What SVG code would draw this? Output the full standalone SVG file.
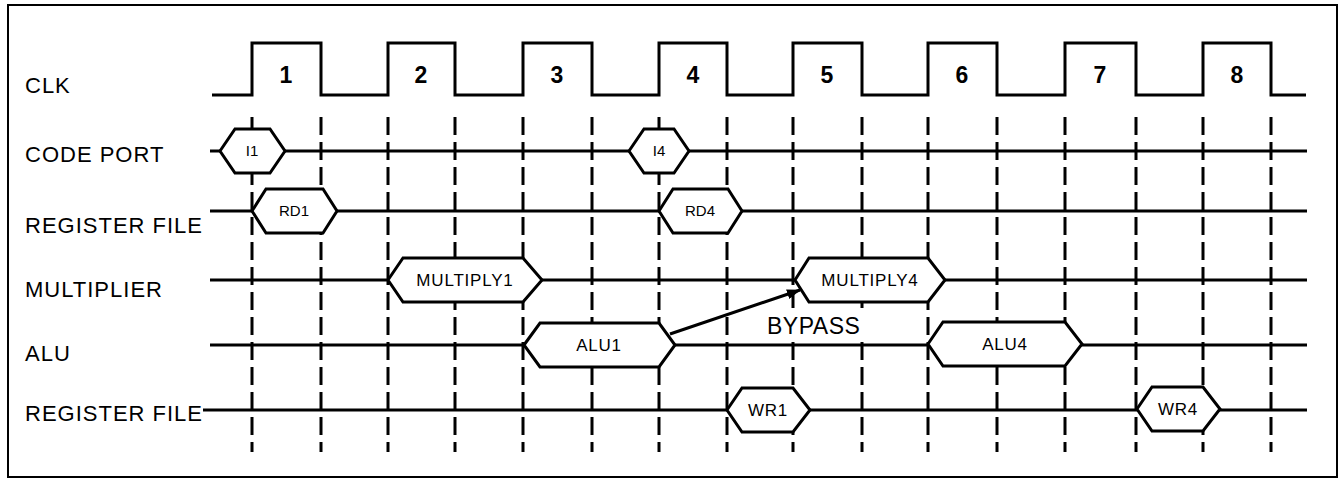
<svg xmlns="http://www.w3.org/2000/svg" width="1340" height="479" viewBox="0 0 1340 479">
<style>
.lbl{font-family:"Liberation Sans",Arial,sans-serif;font-size:22px;letter-spacing:1px;fill:#000}
.num{font-family:"Liberation Sans",Arial,sans-serif;font-size:23px;font-weight:bold;fill:#000;text-anchor:middle}
.ht{font-family:"Liberation Sans",Arial,sans-serif;font-size:17px;letter-spacing:0.8px;fill:#000;text-anchor:middle}
.hs{font-family:"Liberation Sans",Arial,sans-serif;font-size:15px;fill:#000;text-anchor:middle}
.sig{stroke:#000;stroke-width:3;fill:none}
.dash{stroke:#000;stroke-width:3;stroke-dasharray:18 7;fill:none}
.hex{stroke:#000;stroke-width:3;fill:#fff;stroke-linejoin:miter}
</style>
<defs>
<marker id="ah" markerWidth="14" markerHeight="10" refX="13" refY="5" orient="auto" markerUnits="userSpaceOnUse">
<path d="M0,0 L14,5 L0,10 z" fill="#000"/>
</marker>
</defs>
<rect x="8" y="5" width="1329" height="472" fill="#fff" stroke="#000" stroke-width="2"/>
<g id="labels">
<text class="lbl" x="25" y="93">CLK</text>
<text class="lbl" x="25" y="162">CODE PORT</text>
<text class="lbl" x="25" y="233">REGISTER FILE</text>
<text class="lbl" x="25" y="297">MULTIPLIER</text>
<text class="lbl" x="25" y="361">ALU</text>
<text class="lbl" x="25" y="421">REGISTER FILE</text>
</g>
<g id="clk">
<path class="sig" d="M212,95 H252 V43 H321 V95 H388 V43 H455 V95 H523 V43 H592 V95 H659 V43 H727 V95 H793 V43 H862 V95 H928 V43 H997 V95 H1065 V43 H1136 V95 H1203 V43 H1271 V95 H1306"/>
<text class="num" x="286" y="83">1</text>
<text class="num" x="421" y="83">2</text>
<text class="num" x="557" y="83">3</text>
<text class="num" x="693" y="83">4</text>
<text class="num" x="827" y="83">5</text>
<text class="num" x="962" y="83">6</text>
<text class="num" x="1100" y="83">7</text>
<text class="num" x="1237" y="83">8</text>
</g>
<g id="gridlines">
<path class="dash" d="M252,117 V452 M321,117 V452 M388,117 V452 M455,117 V452 M523,117 V452 M592,117 V452 M659,117 V452 M727,117 V452 M793,117 V452 M862,117 V452 M928,117 V452 M997,117 V452 M1065,117 V452 M1136,117 V452 M1203,117 V452 M1271,117 V452"/>
</g>
<g id="signals">
<path class="sig" d="M210,151 H1307 M210,211 H1307 M210,280 H1307 M210,345 H1307 M203,410 H1307"/>
</g>
<g id="I1"><path class="hex" d="M220,151 L235,129 L270,129 L285,151 L270,173 L235,173 Z"/><text class="hs" x="252" y="156">I1</text></g>
<g id="I4"><path class="hex" d="M629,151 L644,129 L674,129 L689,151 L674,173 L644,173 Z"/><text class="hs" x="659" y="156">I4</text></g>
<g id="RD1"><path class="hex" d="M252,211 L266,189 L323,189 L337,211 L323,233 L266,233 Z"/><text class="hs" x="294" y="216">RD1</text></g>
<g id="RD4"><path class="hex" d="M659,211 L673,189 L728,189 L742,211 L728,233 L673,233 Z"/><text class="hs" x="700" y="216">RD4</text></g>
<g id="MULTIPLY1"><path class="hex" d="M388,280 L403,258 L523,258 L542,280 L523,302 L403,302 Z"/><text class="ht" x="465" y="286">MULTIPLY1</text></g>
<g id="MULTIPLY4"><path class="hex" d="M795,280 L809,258 L928,258 L945,280 L928,302 L809,302 Z"/><text class="ht" x="870" y="286">MULTIPLY4</text></g>
<g id="ALU1"><path class="hex" d="M524,345 L540,323 L659,323 L675,345 L659,367 L540,367 Z"/><text class="ht" x="599" y="351">ALU1</text></g>
<g id="ALU4"><path class="hex" d="M928,344 L943,322 L1065,322 L1082,344 L1065,366 L943,366 Z"/><text class="ht" x="1005" y="350">ALU4</text></g>
<g id="WR1"><path class="hex" d="M727,410 L742,388 L793,388 L810,410 L793,432 L742,432 Z"/><text class="ht" x="768" y="416">WR1</text></g>
<g id="WR4"><path class="hex" d="M1137,409 L1152,387 L1203,387 L1220,409 L1203,431 L1152,431 Z"/><text class="ht" x="1178" y="415">WR4</text></g>
<g id="connectors">
<line x1="670" y1="334" x2="800" y2="290" stroke="#000" stroke-width="3" marker-end="url(#ah)"/>
<rect x="764" y="308" width="104" height="32" fill="#fff"/>
<text class="lbl" x="767" y="334" style="font-size:23px;letter-spacing:0.5px">BYPASS</text>
</g>
</svg>
